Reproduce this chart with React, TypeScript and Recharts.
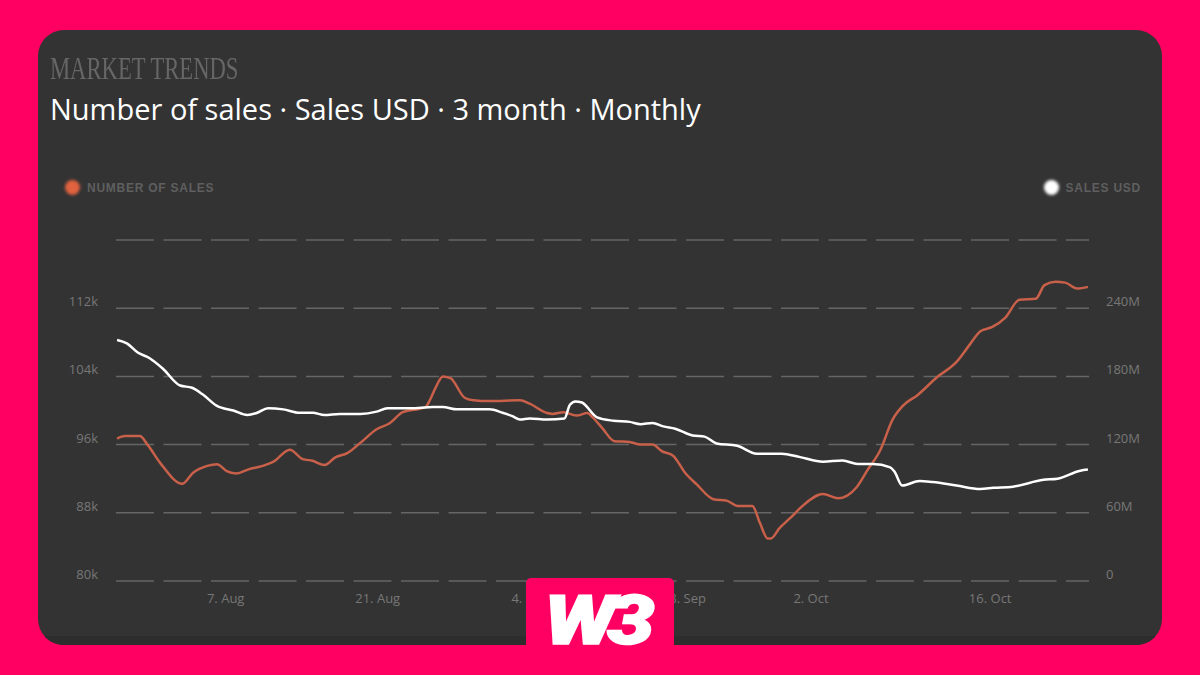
import { LineChart, Line, XAxis, YAxis, CartesianGrid } from 'recharts'

const salesDays = [0.1, 0.8, 2.2, 2.9, 4.1, 6.1, 7.1, 8.4, 9.3, 10.2, 11.1, 12.2, 13.5, 14.5, 16.0, 17.2, 18.1, 19.2, 20.2, 21.3, 22.5, 24.0, 25.2, 26.4, 28.5, 28.9, 29.4, 30.1, 30.8, 32.1, 32.9, 34.4, 37.2, 38.1, 39.7, 40.2, 41.2, 42.4, 43.4, 43.9, 44.8, 45.9, 47.3, 48.3, 49.4, 50.3, 51.3, 52.4, 53.5, 55.0, 56.3, 57.2, 58.6, 59.3, 60.0, 60.3, 61.1, 62.1, 63.3, 65.1, 66.5, 68.2, 69.2, 70.4, 71.5, 72.5, 73.8, 75.6, 77.4, 78.6, 79.6, 80.7, 81.9, 83.2, 84.7, 85.5, 86.5, 87.4, 88.5, 89.5]
const salesCount = [96.7, 97.0, 97.0, 96.0, 93.8, 91.4, 92.7, 93.5, 93.7, 92.9, 92.6, 93.1, 93.5, 94.0, 95.4, 94.3, 94.1, 93.6, 94.5, 95.0, 96.2, 97.8, 98.5, 99.8, 100.4, 101.2, 102.6, 104.0, 103.8, 101.5, 101.2, 101.1, 101.2, 100.8, 99.7, 99.6, 99.8, 99.4, 99.7, 99.2, 97.9, 96.4, 96.3, 96.0, 96.0, 95.2, 94.7, 92.7, 91.3, 89.6, 89.4, 88.8, 88.8, 86.8, 85.0, 85.0, 86.2, 87.4, 88.9, 90.2, 89.7, 91.0, 93.0, 95.4, 98.9, 100.6, 101.8, 103.9, 105.7, 107.7, 109.3, 109.8, 110.9, 113.0, 113.1, 114.7, 115.1, 115.0, 114.3, 114.5]

const usdDays = [0.1, 1.0, 2.0, 3.1, 4.3, 5.9, 7.0, 8.0, 9.3, 10.8, 12.1, 13.0, 14.0, 15.4, 16.9, 18.1, 19.2, 20.6, 22.5, 24.0, 25.0, 27.1, 29.2, 30.1, 31.4, 34.4, 35.6, 36.5, 37.2, 38.1, 39.7, 41.3, 41.8, 42.3, 42.9, 44.3, 45.8, 47.3, 48.3, 49.4, 50.4, 51.5, 53.1, 54.2, 55.3, 57.2, 59.0, 60.2, 61.3, 63.0, 65.1, 66.9, 68.3, 69.7, 71.3, 71.7, 72.4, 74.0, 75.2, 77.4, 79.6, 80.8, 82.6, 85.4, 86.7, 88.8, 89.5]
const salesUsd = [212, 209, 201, 196, 187, 172, 170, 164, 154, 150, 146, 148, 152, 151, 148, 148, 146, 147, 147, 149, 152, 152, 153, 153, 151, 151, 148, 145, 142, 143, 142, 143, 155, 158, 157, 144, 141, 140, 138, 139, 136, 134, 128, 127, 121, 119, 112, 112, 112, 109, 105, 106, 103, 103, 100, 96, 84, 88, 87, 84, 81, 82, 83, 89, 90, 97, 98]

const xTicks = [10.1, 24.1, 38.1, 52.3, 64.0, 80.5]
const xLabels = ['7. Aug', '21. Aug', '4. Sep', '18. Sep', '2. Oct', '16. Oct']
const leftTicks = [80, 88, 96, 104, 112, 120]
const rightTicks = [0, 60, 120, 180, 240, 300]

const salesRows = salesDays.map((day, i) => ({ day, sales: salesCount[i] }))
const usdRows = usdDays.map((day, i) => ({ day, usd: salesUsd[i] }))

const PINK = '#ff0062'
const CARD = '#333333'
const TICK = '#777777'
const ORANGE = '#c8604a'

const LeftTick = ({ x, y, payload }: any) =>
  payload.value === 120 ? null : (
    <text x={x - 10} y={y - 2} textAnchor="end" fontSize={13} fill={TICK} fontFamily="Open Sans">
      {payload.value}k
    </text>
  )

const RightTick = ({ x, y, payload }: any) => {
  if (payload.value === 300) return null
  return (
    <text x={x + 9} y={y - 2} fontSize={13} fill={TICK} fontFamily="Open Sans">
      {payload.value === 0 ? '0' : `${payload.value}M`}
    </text>
  )
}

function LegendItem({ color, label, style }: { color: string; label: string; style: any }) {
  return (
    <div style={{ position: 'absolute', top: 180, display: 'flex', alignItems: 'center', gap: 7, ...style }}>
      <span style={{ width: 15, height: 15, borderRadius: '50%', background: color, filter: 'blur(1.6px)' }} />
      <span style={{ fontFamily: 'Liberation Sans', fontWeight: 700, fontSize: 12, color: '#5f5f5f', letterSpacing: 0.75 }}>{label}</span>
    </div>
  )
}

export default function App() {
  return (
    <div style={{ position: 'fixed', left: 0, top: 0, width: 1200, height: 675, background: PINK, overflow: 'hidden' }}>
      <div style={{ position: 'absolute', left: 38, top: 30, width: 1124, height: 615, borderRadius: 26, background: CARD, overflow: 'hidden' }}>
        <div style={{ position: 'absolute', left: 0, right: 0, bottom: 0, height: 9, background: '#2d2d2d' }} />
      </div>

      <div style={{ position: 'absolute', left: 50, top: 51, fontFamily: 'Liberation Serif', fontSize: 31, color: '#666666', whiteSpace: 'nowrap', transform: 'scaleX(0.73)', transformOrigin: 'left top' }}>
        MARKET TRENDS
      </div>
      <div style={{ position: 'absolute', left: 50, top: 89, fontFamily: 'Open Sans', fontWeight: 500, fontSize: 29, lineHeight: '40px', color: '#ffffff', whiteSpace: 'nowrap' }}>
        Number of sales · Sales USD · 3 month · Monthly
      </div>

      <LegendItem color="#e0623f" label="NUMBER OF SALES" style={{ left: 65 }} />
      <LegendItem color="#ffffff" label="SALES USD" style={{ right: 59 }} />

      <div style={{ position: 'absolute', left: 0, top: 0 }}>
        <LineChart width={1200} height={675} margin={{ top: 240, right: 61, bottom: 64, left: 66 }}>
          <CartesianGrid yAxisId="left" vertical={false} stroke="#666666" strokeWidth={1.5} strokeDasharray="38 9.5" />
          <XAxis
            dataKey="day"
            type="number"
            domain={[0, 89.6]}
            ticks={xTicks}
            tickFormatter={(v, i) => xLabels[i]}
            tickLine={false}
            axisLine={false}
            interval={0}
            height={30}
            tickMargin={7}
            tick={{ fontSize: 13, fill: TICK, fontFamily: 'Open Sans' }}
            allowDuplicatedCategory={false}
          />
          <YAxis yAxisId="left" domain={[80, 120]} ticks={leftTicks} width={50} tickLine={false} axisLine={false} tick={<LeftTick />} interval={0} />
          <YAxis yAxisId="right" orientation="right" domain={[0, 300]} ticks={rightTicks} width={50} tickLine={false} axisLine={false} tick={<RightTick />} interval={0} />
          <Line yAxisId="left" data={salesRows} dataKey="sales" type="monotone" stroke={ORANGE} strokeWidth={2.5} dot={false} isAnimationActive={false} />
          <Line yAxisId="right" data={usdRows} dataKey="usd" type="monotone" stroke="#ffffff" strokeWidth={2.5} dot={false} isAnimationActive={false} />
        </LineChart>
      </div>

      <div style={{ position: 'absolute', left: 526, top: 578, width: 148, height: 67, background: PINK, borderRadius: '5px 5px 0 0' }}>
        <div style={{ position: 'absolute', left: 18, top: 3, fontFamily: 'Roboto', fontWeight: 900, fontStyle: 'italic', fontSize: 68, letterSpacing: -7, color: '#ffffff', lineHeight: '80px', WebkitTextStroke: '1.5px #ffffff', transform: 'scaleX(1.25)', transformOrigin: 'left top' }}>
          W3
        </div>
      </div>
    </div>
  )
}
